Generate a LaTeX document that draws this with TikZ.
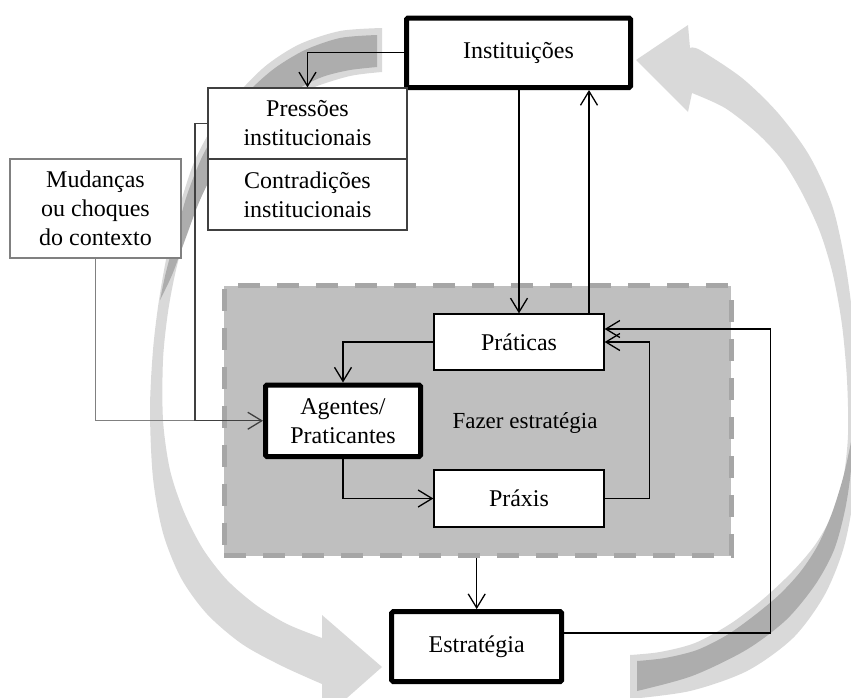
\documentclass[tikz,border=0pt]{standalone}
\usepackage{fontspec}
\setmainfont{Liberation Serif}
\usetikzlibrary{arrows.meta,calc}
\definecolor{bandlight}{HTML}{D9D9D9}
\definecolor{banddark}{HTML}{ADADAD}
\definecolor{regfill}{HTML}{BFBFBF}
\definecolor{regline}{HTML}{A6A6A6}
\definecolor{boxgray}{HTML}{404040}
\definecolor{mudgray}{HTML}{808080}
\tikzset{
  txt/.style={font=\fontsize{24}{29}\selectfont, align=center, inner sep=0pt},
  thinbox/.style={txt, draw=black, fill=white, line width=1.3pt},
  thickbox/.style={txt, draw=black, fill=white, line width=5pt, rounded corners=1.5pt},
  presbox/.style={txt, draw=boxgray, fill=white, line width=1.3pt},
  mudbox/.style={txt, draw=mudgray, fill=white, line width=1.3pt},
  region/.style={fill=regfill, draw=regline, line width=5pt, dash pattern=on 22pt off 17pt, inner sep=0pt},
  tip/.style={-{Straight Barb[length=14pt,width=17pt]}},
  conn/.style={draw=black, line width=1.3pt, tip},
  gline/.style={draw=mudgray, line width=1.3pt},
  dline/.style={draw=boxgray, line width=1.3pt},
}
\begin{document}
\begin{tikzpicture}[x=1pt,y=-1pt]
\useasboundingbox (0,0) rectangle (851,697);
\begin{scope}
\clip (0,0) rectangle (851,697);
% left big curved arrow
\fill[bandlight] plot[smooth] coordinates {(382,28) (340,31) (300,44) (268,64) (243,88) (217,120) (195,160) (180,205) (168,250) (159,300) (153,350) (150,410) (153,478) (163,533) (181,578) (207,614) (242,644) (282,666) (322,684)}
  -- (322,720) -- (382,667) -- (322,615)
  -- plot[smooth] coordinates {(322,638) (287,624) (256,605) (227,580) (203,549) (184,512) (170,470) (163,420) (163,360) (168,312) (176,270) (188,228) (207,185) (235,142) (270,108) (312,88) (350,76) (382,72)} -- cycle;
\fill[banddark] plot[smooth] coordinates {(377,35) (340,38) (305,50) (275,68) (250,90) (225,118) (203,155) (187,195) (176,235) (166,272) (160,300)}
  -- plot[smooth] coordinates {(160,300) (172,275) (185,240) (200,200) (220,160) (245,128) (275,103) (305,85) (325,76) (350,70) (377,67)} -- cycle;
% right big curved arrow
\fill[bandlight] plot[smooth] coordinates {(630,699) (690,691) (747,671) (793,638) (824,596) (843,550) (853,500) (857,440) (857,380) (853,320) (845,262) (832,205) (809,155) (778,113) (742,78) (700,50) (690,48)}
  -- (688,25) -- (636,60) -- (688,112)
  -- plot[smooth] coordinates {(692,93) (725,108) (757,133) (782,160) (802,193) (820,232) (833,275) (842,325) (847,380) (848,435) (843,480) (832,515) (815,545) (792,572) (762,600) (730,624) (695,643) (660,652) (630,655)} -- cycle;
\fill[banddark] (637,661) -- plot[smooth] coordinates {(637,661) (665,658) (697,650) (727,635) (755,615) (780,594) (801,571) (818,545) (832,513) (843,478) (850,447) (853,430)}
  -- plot[smooth] coordinates {(853,430) (851,470) (845,510) (834,550) (815,585) (786,620) (746,650) (692,676) (637,691)} -- cycle;
\end{scope}

% region
\node[region, minimum width=507pt, minimum height=270pt] (fz) at (477.5,420.5) {};
\node[txt, font=\fontsize{23}{28}\selectfont] (fzt) at (525,423) {Fazer estratégia};

% boxes
\node[thickbox, minimum width=224pt, minimum height=69.5pt] (inst) at (518.5,52.75) {Instituições};
\node[presbox, minimum width=199pt, minimum height=71pt] (pres) at (307.5,123.5) {Pressões\\institucionais};
\node[presbox, minimum width=199pt, minimum height=71pt] (contr) at (307.5,194.5) {Contradições\\institucionais};
\node[mudbox, minimum width=171pt, minimum height=99pt] (mud) at (95.5,208.5) {Mudanças\\ou choques\\do contexto};
\node[thinbox, minimum width=170pt, minimum height=56pt] (prat) at (519,342) {Práticas};
\node[thickbox, minimum width=155pt, minimum height=71.5pt] (agt) at (343,420.75) {Agentes/\\Praticantes};
\node[thinbox, minimum width=170pt, minimum height=57pt] (praxis) at (519,498.5) {Práxis};
\node[thickbox, minimum width=170pt, minimum height=70pt] (estr) at (476.7,646.6) {Estratégia};

% connectors
\draw[conn] (inst.west) -| (pres.north);
\draw[conn] (prat.north |- inst.south) -- (prat.north);
\draw[conn] ([xshift=70pt]prat.north) -- ([xshift=70pt]prat.north |- inst.south);
\draw[conn] (prat.west) -| (agt.north);
\draw[conn] (agt.south) |- (praxis.west);
\draw[conn] (praxis.east) -- ++(45,0) |- (prat.east);
\draw[conn] ([yshift=13.6pt]estr.east) -- ++(206,0) |- ([yshift=13pt]prat.east);
\draw[conn] (estr.north |- fz.south) -- (estr.north);
\coordinate (j) at ([xshift=-68pt]agt.west);
\draw[gline] (mud.south) |- (j);
\draw[dline, tip] (pres.west) -- (pres.west -| j) -- (j) -- (agt.west);
\end{tikzpicture}
\end{document}
